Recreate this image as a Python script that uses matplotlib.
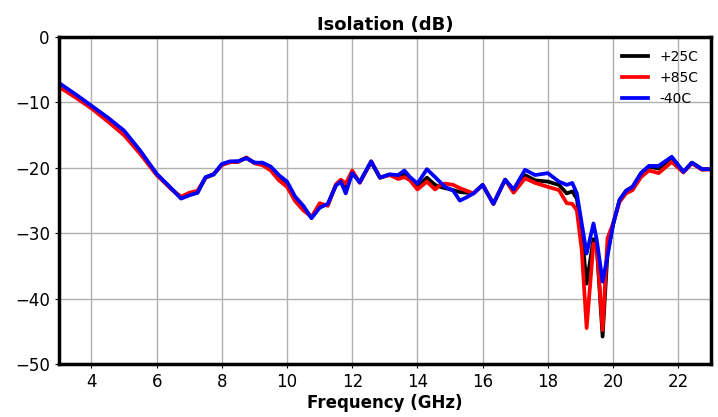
import matplotlib
matplotlib.use("Agg")
import matplotlib.pyplot as plt

# frequency points (GHz) and isolation (dB)
freq = [3.0, 3.5, 4.0, 4.5, 5.0, 5.5, 6.0, 6.5, 6.75, 7.0, 7.25, 7.5, 7.75,
        8.0, 8.25, 8.5, 8.75, 9.0, 9.25, 9.5, 9.75, 10.0, 10.25, 10.5, 10.75,
        11.0, 11.25, 11.5, 11.65, 11.8, 12.0, 12.23, 12.58, 12.85, 13.15,
        13.41, 13.6, 13.77, 14.0, 14.29, 14.54, 14.7, 14.85, 15.1, 15.3,
        15.51, 15.72, 16.0, 16.33, 16.69, 16.95, 17.3, 17.61, 18.0, 18.34,
        18.58, 18.75, 18.89, 19.04, 19.19, 19.4, 19.5, 19.68, 19.83, 20.0,
        20.2, 20.4, 20.6, 20.86, 21.1, 21.4, 21.8, 22.16, 22.42, 22.73, 23.0]

iso_25c = [-7.2, -8.8, -10.6, -12.5, -14.5, -17.5, -21.0, -23.4, -24.6, -24.1,
           -23.8, -21.5, -21.0, -19.5, -19.1, -19.0, -18.5, -19.2, -19.3, -20.0,
           -21.4, -22.4, -24.7, -26.1, -27.6, -25.8, -25.6, -22.6, -22.0, -23.0,
           -20.7, -22.2, -19.1, -21.5, -21.0, -21.4, -20.9, -21.7, -22.9, -21.5,
           -22.6, -22.9, -23.1, -23.4, -23.7, -23.8, -23.9, -22.6, -25.5, -21.8,
           -23.5, -21.1, -21.9, -22.1, -22.6, -23.9, -23.6, -24.7, -30.0, -37.7,
           -30.9, -32.0, -45.8, -33.0, -28.7, -24.9, -23.5, -22.9, -20.8, -19.8,
           -20.1, -18.4, -20.6, -19.2, -20.2, -20.2]

iso_85c = [-7.6, -9.2, -10.9, -12.9, -15.0, -17.9, -21.1, -23.5, -24.4, -23.8,
           -23.5, -21.5, -20.9, -19.6, -19.1, -19.1, -18.4, -19.3, -19.6, -20.4,
           -21.9, -22.9, -25.1, -26.5, -27.5, -25.4, -25.8, -22.5, -21.8, -22.4,
           -20.4, -22.3, -19.0, -21.5, -21.1, -21.7, -21.4, -21.9, -23.3, -22.1,
           -23.3, -22.6, -22.4, -22.6, -23.1, -23.5, -23.9, -22.6, -25.5, -21.8,
           -23.8, -21.6, -22.3, -22.9, -23.4, -25.4, -25.5, -26.5, -32.6, -44.5,
           -31.6, -32.0, -44.8, -30.8, -28.5, -25.2, -23.9, -23.4, -21.4, -20.4,
           -20.8, -19.1, -20.7, -19.3, -20.3, -20.2]

iso_m40c = [-7.0, -8.7, -10.5, -12.3, -14.3, -17.4, -20.9, -23.4, -24.7, -24.2,
            -23.8, -21.4, -21.0, -19.4, -19.0, -19.0, -18.5, -19.2, -19.2, -19.8,
            -21.1, -22.1, -24.4, -25.8, -27.7, -26.1, -25.5, -22.7, -22.1, -23.9,
            -20.8, -22.2, -19.0, -21.5, -21.0, -21.1, -20.4, -21.4, -22.4, -20.2,
            -21.4, -22.2, -22.9, -23.5, -25.0, -24.5, -23.9, -22.6, -25.5, -21.8,
            -23.3, -20.3, -21.1, -20.8, -22.1, -22.6, -22.3, -23.9, -28.5, -33.1,
            -28.5, -31.0, -37.4, -33.5, -28.7, -24.9, -23.5, -22.9, -20.8, -19.7,
            -19.7, -18.3, -20.6, -19.2, -20.2, -20.2]

labels = ["+25C", "+85C", "-40C"]
colors = ["black", "red", "blue"]


def main():
    fig = plt.figure(figsize=(7.18, 4.17), dpi=100)
    ax = fig.add_axes([0.082, 0.127, 0.908, 0.784])

    for data, label, color in zip([iso_25c, iso_85c, iso_m40c], labels, colors):
        ax.plot(freq, data, color=color, linewidth=2.7, label=label,
                solid_joinstyle="round")

    ax.set_xlim(3, 23)
    ax.set_ylim(-50, 0)
    ax.set_xticks(range(4, 23, 2))
    ax.set_yticks(range(-50, 1, 10))
    ax.grid(color="#b0b0b0", linewidth=1)
    ax.set_axisbelow(True)
    ax.tick_params(labelsize=12, length=3)
    for s in ax.spines.values():
        s.set_linewidth(2.5)

    ax.set_title("Isolation (dB)", fontsize=13, fontweight="bold", pad=5)
    ax.set_xlabel("Frequency (GHz)", fontsize=12, fontweight="bold", labelpad=2)
    ax.legend(loc="upper right", frameon=False, fontsize=10, handlelength=1.9)

    fig.savefig("out.png", dpi=100)


if __name__ == "__main__":
    main()
